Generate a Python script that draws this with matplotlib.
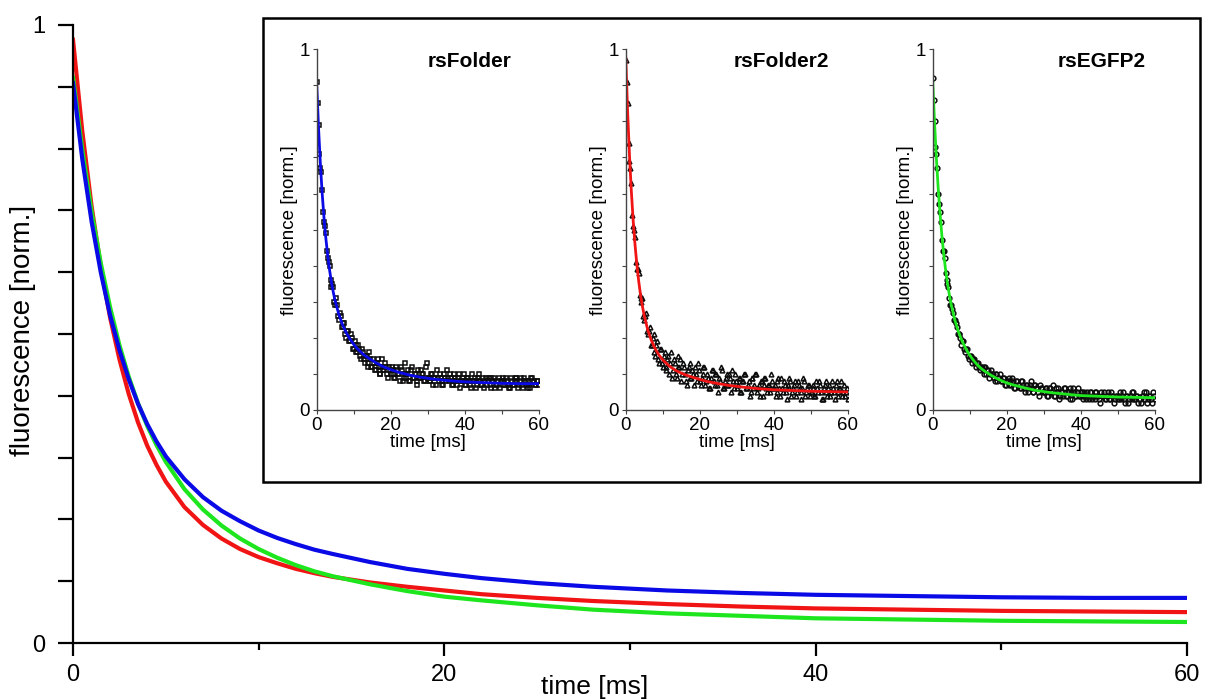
import matplotlib
matplotlib.use("Agg")
import matplotlib.pyplot as plt
from matplotlib.patches import Rectangle

plt.rcParams["font.family"] = ["Liberation Sans", "DejaVu Sans"]

# fitted decay curves (main plot and inset fit lines)
FIT_T = [0, 0.5, 1, 1.5, 2, 2.5, 3, 3.5, 4, 4.5, 5, 6, 7, 8, 9, 10, 11, 12, 13, 14,
         16, 18, 20, 22, 25, 28, 32, 36, 40, 45, 50, 55, 60]
FIT_RSFOLDER = [0.906, 0.783, 0.682, 0.599, 0.530, 0.474, 0.427, 0.387, 0.354, 0.326,
                0.302, 0.265, 0.236, 0.214, 0.197, 0.182, 0.170, 0.160, 0.151, 0.144,
                0.131, 0.120, 0.112, 0.105, 0.097, 0.091, 0.085, 0.081, 0.078, 0.076,
                0.074, 0.073, 0.073]
FIT_RSFOLDER2 = [0.976, 0.828, 0.707, 0.608, 0.526, 0.459, 0.403, 0.357, 0.319, 0.288,
                 0.261, 0.220, 0.191, 0.169, 0.152, 0.139, 0.129, 0.120, 0.113, 0.107,
                 0.098, 0.091, 0.085, 0.079, 0.073, 0.068, 0.063, 0.059, 0.056, 0.054,
                 0.052, 0.051, 0.050]
FIT_RSEGFP2 = [0.915, 0.798, 0.698, 0.614, 0.543, 0.482, 0.431, 0.388, 0.351, 0.320,
               0.293, 0.249, 0.216, 0.190, 0.169, 0.152, 0.138, 0.126, 0.116, 0.108,
               0.095, 0.084, 0.075, 0.069, 0.061, 0.054, 0.048, 0.044, 0.040, 0.038,
               0.036, 0.035, 0.034]

# measured points shown in the insets: whole/half ms samples and quarter ms samples
DATA_T = [0, 0.5, 1, 1.5, 2, 2.5, 3, 3.5, 4, 4.5, 5, 5.5, 6, 6.5, 7, 7.5, 8, 8.5, 9, 9.5,
          10, 10.5, 11, 11.5, 12, 12.5, 13, 13.5, 14, 14.5, 15, 15.5, 16, 16.5, 17, 17.5,
          18, 18.5, 19, 19.5, 20, 20.5, 21, 21.5, 22, 22.5, 23, 23.5, 24, 24.5, 25, 25.5,
          26, 26.5, 27, 27.5, 28, 28.5, 29, 29.5, 30, 30.5, 31, 31.5, 32, 32.5, 33, 33.5,
          34, 34.5, 35, 35.5, 36, 36.5, 37, 37.5, 38, 38.5, 39, 39.5, 40, 40.5, 41, 41.5,
          42, 42.5, 43, 43.5, 44, 44.5, 45, 45.5, 46, 46.5, 47, 47.5, 48, 48.5, 49, 49.5,
          50, 50.5, 51, 51.5, 52, 52.5, 53, 53.5, 54, 54.5, 55, 55.5, 56, 56.5, 57, 57.5,
          58, 58.5, 59, 59.5, 60]
DATA_T_Q = [0.25, 0.75, 1.25, 1.75, 2.25, 2.75, 3.25, 3.75, 4.25, 4.75, 5.25, 5.75,
            6.25, 6.75, 7.25, 7.75, 8.25, 8.75, 9.25, 9.75, 10.25, 10.75, 11.25, 11.75,
            12.25, 12.75, 13.25, 13.75, 14.25, 14.75, 15.25, 15.75, 16.25, 16.75, 17.25,
            17.75, 18.25, 18.75, 19.25, 19.75, 20.25, 20.75, 21.25, 21.75, 22.25, 22.75,
            23.25, 23.75, 24.25, 24.75, 25.25, 25.75, 26.25, 26.75, 27.25, 27.75, 28.25,
            28.75, 29.25, 29.75, 30.25, 30.75, 31.25, 31.75, 32.25, 32.75, 33.25, 33.75,
            34.25, 34.75, 35.25, 35.75, 36.25, 36.75, 37.25, 37.75, 38.25, 38.75, 39.25,
            39.75, 40.25, 40.75, 41.25, 41.75, 42.25, 42.75, 43.25, 43.75, 44.25, 44.75,
            45.25, 45.75, 46.25, 46.75, 47.25, 47.75, 48.25, 48.75, 49.25, 49.75, 50.25,
            50.75, 51.25, 51.75, 52.25, 52.75, 53.25, 53.75, 54.25, 54.75, 55.25, 55.75,
            56.25, 56.75, 57.25, 57.75, 58.25, 58.75, 59.25, 59.75]

DATA_RSFOLDER = [
    0.91, 0.79, 0.67, 0.61, 0.52, 0.49, 0.42, 0.40, 0.34, 0.34, 0.29, 0.29, 0.25, 0.26, 0.23,
    0.24, 0.20, 0.22, 0.19, 0.20, 0.17,
    0.18, 0.16, 0.17, 0.14, 0.16, 0.13, 0.15, 0.12, 0.14, 0.12, 0.13, 0.11, 0.14, 0.10, 0.12,
    0.11, 0.13, 0.10, 0.12, 0.10,
    0.11, 0.09, 0.12, 0.10, 0.08, 0.11, 0.09, 0.13, 0.10, 0.08, 0.11, 0.09, 0.10, 0.07, 0.11,
    0.09, 0.10, 0.08, 0.12, 0.09,
    0.08, 0.10, 0.07, 0.09, 0.11, 0.08, 0.09, 0.07, 0.10, 0.08, 0.09, 0.10, 0.07, 0.08, 0.09,
    0.07, 0.10, 0.08, 0.09, 0.07,
    0.08, 0.09, 0.07, 0.10, 0.08, 0.06, 0.09, 0.08, 0.07, 0.09, 0.08, 0.07, 0.09, 0.06, 0.08,
    0.09, 0.07, 0.08, 0.06, 0.08,
    0.09, 0.07, 0.08, 0.06, 0.09, 0.07, 0.08, 0.09, 0.06, 0.08, 0.07, 0.09, 0.08, 0.06, 0.07,
    0.09, 0.08, 0.07, 0.08, 0.07]
DATA_RSFOLDER_Q = [
    0.85, 0.71, 0.66, 0.55, 0.51, 0.44, 0.41, 0.36, 0.35, 0.30, 0.31, 0.26, 0.27, 0.23, 0.24,
    0.21, 0.22, 0.19, 0.21, 0.17,
    0.19, 0.16, 0.18, 0.15, 0.17, 0.14, 0.15, 0.13, 0.16, 0.12, 0.14, 0.11, 0.13, 0.12, 0.10,
    0.14, 0.11, 0.12, 0.09, 0.11,
    0.12, 0.10, 0.09, 0.11, 0.10, 0.12, 0.08, 0.10, 0.09, 0.11, 0.08, 0.12, 0.09, 0.10, 0.08,
    0.09, 0.11, 0.10, 0.08, 0.13,
    0.09, 0.08, 0.10, 0.09, 0.07, 0.09, 0.10, 0.08, 0.07, 0.09, 0.11, 0.08, 0.09, 0.07, 0.10,
    0.08, 0.09, 0.06, 0.08, 0.10,
    0.07, 0.09, 0.08, 0.06, 0.08, 0.09, 0.07, 0.10, 0.08, 0.07, 0.06, 0.09, 0.08, 0.07, 0.09,
    0.08, 0.06, 0.07, 0.09, 0.08,
    0.07, 0.08, 0.09, 0.07, 0.06, 0.08, 0.07, 0.09, 0.08, 0.07, 0.09, 0.06, 0.08, 0.07, 0.08,
    0.06, 0.09, 0.08, 0.07, 0.08]
DATA_RSFOLDER2 = [
    0.97, 0.85, 0.69, 0.63, 0.51, 0.48, 0.39, 0.38, 0.30, 0.31, 0.25, 0.27, 0.21, 0.23, 0.18,
    0.21, 0.15, 0.19, 0.13, 0.17, 0.12,
    0.16, 0.11, 0.15, 0.13, 0.09, 0.14, 0.10, 0.15, 0.12, 0.08, 0.13, 0.10, 0.07, 0.12, 0.09,
    0.11, 0.07, 0.10, 0.13, 0.08,
    0.09, 0.12, 0.07, 0.10, 0.06, 0.09, 0.11, 0.07, 0.10, 0.05, 0.08, 0.11, 0.06, 0.09, 0.07,
    0.10, 0.05, 0.08, 0.10, 0.06,
    0.09, 0.05, 0.08, 0.10, 0.06, 0.07, 0.04, 0.09, 0.06, 0.10, 0.05, 0.07, 0.08, 0.04, 0.09,
    0.06, 0.07, 0.05, 0.08, 0.06,
    0.04, 0.08, 0.06, 0.09, 0.05, 0.07, 0.03, 0.06, 0.08, 0.05, 0.07, 0.04, 0.08, 0.06, 0.05,
    0.09, 0.04, 0.06, 0.07, 0.05,
    0.06, 0.04, 0.08, 0.05, 0.07, 0.03, 0.06, 0.08, 0.04, 0.07, 0.05, 0.06, 0.03, 0.08, 0.05,
    0.06, 0.04, 0.07, 0.05, 0.03]
DATA_RSFOLDER2_Q = [
    0.91, 0.74, 0.67, 0.54, 0.50, 0.41, 0.39, 0.32, 0.31, 0.26, 0.26, 0.22, 0.22, 0.18, 0.20,
    0.16, 0.18, 0.14, 0.17, 0.13,
    0.15, 0.12, 0.14, 0.10, 0.16, 0.11, 0.13, 0.09, 0.12, 0.14, 0.10, 0.12, 0.08, 0.11, 0.13,
    0.09, 0.10, 0.12, 0.08, 0.11,
    0.07, 0.10, 0.12, 0.08, 0.09, 0.06, 0.11, 0.08, 0.10, 0.07, 0.09, 0.12, 0.06, 0.08, 0.10,
    0.07, 0.09, 0.11, 0.06, 0.08,
    0.07, 0.09, 0.05, 0.08, 0.10, 0.06, 0.08, 0.05, 0.09, 0.07, 0.10, 0.06, 0.04, 0.08, 0.07,
    0.09, 0.05, 0.07, 0.10, 0.06,
    0.07, 0.05, 0.09, 0.04, 0.06, 0.08, 0.05, 0.07, 0.09, 0.04, 0.06, 0.08, 0.05, 0.07, 0.03,
    0.06, 0.08, 0.05, 0.07, 0.04,
    0.05, 0.07, 0.04, 0.06, 0.08, 0.05, 0.03, 0.07, 0.05, 0.06, 0.04, 0.08, 0.05, 0.07, 0.04,
    0.06, 0.08, 0.05, 0.04, 0.06]
DATA_RSEGFP2 = [
    0.92, 0.80, 0.71, 0.60, 0.55, 0.47, 0.44, 0.38, 0.35, 0.31, 0.29, 0.27, 0.25, 0.23, 0.21,
    0.20, 0.19, 0.17, 0.17, 0.15, 0.15,
    0.14, 0.14, 0.13, 0.13, 0.12, 0.12, 0.11, 0.12, 0.10, 0.11, 0.10, 0.10, 0.09, 0.10, 0.08,
    0.09, 0.08, 0.09, 0.07, 0.08,
    0.07, 0.08, 0.09, 0.06, 0.08, 0.07, 0.06, 0.08, 0.07, 0.05, 0.07, 0.06, 0.08, 0.05, 0.07,
    0.06, 0.05, 0.07, 0.06, 0.05,
    0.06, 0.04, 0.06, 0.05, 0.07, 0.04, 0.05, 0.06, 0.04, 0.05, 0.06, 0.04, 0.05, 0.03, 0.05,
    0.06, 0.04, 0.05, 0.04, 0.05,
    0.04, 0.05, 0.03, 0.04, 0.05, 0.03, 0.04, 0.05, 0.04, 0.03, 0.05, 0.04, 0.03, 0.04, 0.05,
    0.03, 0.04, 0.02, 0.04, 0.03,
    0.04, 0.03, 0.05, 0.02, 0.04, 0.03, 0.04, 0.05, 0.03, 0.04, 0.02, 0.03, 0.04, 0.05, 0.03,
    0.02, 0.04, 0.03, 0.05, 0.03]
DATA_RSEGFP2_Q = [
    0.86, 0.73, 0.67, 0.57, 0.52, 0.44, 0.42, 0.36, 0.34, 0.29, 0.28, 0.25, 0.24, 0.21, 0.21,
    0.18, 0.19, 0.16, 0.17, 0.14,
    0.15, 0.13, 0.14, 0.12, 0.13, 0.11, 0.12, 0.10, 0.12, 0.11, 0.09, 0.11, 0.10, 0.08, 0.10,
    0.09, 0.10, 0.08, 0.09, 0.07,
    0.08, 0.09, 0.07, 0.08, 0.06, 0.08, 0.07, 0.06, 0.08, 0.06, 0.07, 0.05, 0.07, 0.06, 0.05,
    0.07, 0.06, 0.04, 0.06, 0.05,
    0.05, 0.06, 0.04, 0.06, 0.05, 0.04, 0.06, 0.05, 0.03, 0.05, 0.04, 0.06, 0.04, 0.05, 0.06,
    0.03, 0.05, 0.04, 0.06, 0.04,
    0.05, 0.03, 0.04, 0.05, 0.03, 0.05, 0.04, 0.03, 0.05, 0.04, 0.02, 0.04, 0.05, 0.03, 0.04,
    0.03, 0.05, 0.04, 0.03, 0.04,
    0.03, 0.05, 0.04, 0.03, 0.04, 0.02, 0.04, 0.03, 0.05, 0.03, 0.04, 0.03, 0.02, 0.04, 0.03,
    0.05, 0.03, 0.04, 0.02, 0.04]

NAMES = ["rsFolder", "rsFolder2", "rsEGFP2"]
FITS = [FIT_RSFOLDER, FIT_RSFOLDER2, FIT_RSEGFP2]
DATA = [DATA_RSFOLDER, DATA_RSFOLDER2, DATA_RSEGFP2]
DATA_Q = [DATA_RSFOLDER_Q, DATA_RSFOLDER2_Q, DATA_RSEGFP2_Q]
COLORS = ["#0a0ae6", "#f01414", "#1ee61e"]
MARKERS = ["s", "^", "o"]
MAIN_ORDER = [1, 2, 0]  # red, green, then blue on top


fig = plt.figure(figsize=(12.05, 7.0), dpi=100)

# ---- main plot ----
ax = fig.add_axes([0.0606, 0.0814, 0.9245, 0.8829])
for i in MAIN_ORDER:
    ax.plot(FIT_T, FITS[i], color=COLORS[i], linewidth=3.0)
ax.set_xlim(0, 60)
ax.set_ylim(0, 1)
ax.spines["top"].set_visible(False)
ax.spines["right"].set_visible(False)
for side in ("left", "bottom"):
    ax.spines[side].set_linewidth(1.6)
yt = [i / 10 for i in range(11)]
ax.set_yticks(yt, ["0"] + [""] * 9 + ["1"])
ax.set_xticks([0, 20, 40, 60], ["0", "20", "40", "60"])
ax.set_xticks([10, 30, 50], minor=True)
ax.tick_params(axis="y", length=11, width=1.6, labelsize=17, pad=9)
ax.tick_params(axis="x", which="major", length=9, width=1.6, labelsize=17, pad=6)
ax.tick_params(axis="x", which="minor", length=5, width=1.6)
ax.set_xlabel("time [ms]", fontsize=19)
ax.xaxis.set_label_coords(0.468, -0.052)
ax.set_ylabel("fluorescence [norm.]", fontsize=20)
ax.yaxis.set_label_coords(-0.033, 0.506)

# ---- inset frame ----
fig.patches.append(Rectangle((0.2183, 0.3114), 0.7776, 0.6626, transform=fig.transFigure,
                             facecolor="white", edgecolor="black", linewidth=1.8, zorder=2))

inset_lefts = [0.2628, 0.5193, 0.7740]
title_x = [0.69, 0.70, 0.76]
for i in range(3):
    ia = fig.add_axes([inset_lefts[i], 0.4143, 0.1842, 0.5153], zorder=3)
    ia.patch.set_alpha(0)
    for tt, vals in ((DATA_T, DATA[i]), (DATA_T_Q, DATA_Q[i])):
        ia.plot(tt, vals, linestyle="none", marker=MARKERS[i], markersize=3.4,
                markerfacecolor="none", markeredgecolor="#0d0d0d", markeredgewidth=1.1)
    ia.plot(FIT_T, FITS[i], color=COLORS[i], linewidth=2.0)
    ia.set_xlim(0, 60)
    ia.set_ylim(0, 1)
    ia.spines["top"].set_visible(False)
    ia.spines["right"].set_visible(False)
    for side in ("left", "bottom"):
        ia.spines[side].set_color("#444444")
        ia.spines[side].set_linewidth(1.0)
    ia.set_yticks(yt, ["0"] + [""] * 9 + ["1"])
    ia.set_xticks([0, 20, 40, 60], ["0", "20", "40", "60"])
    ia.set_xticks([10, 30, 50], minor=True)
    ia.tick_params(axis="both", which="both", length=3, width=0.8, color="#444444",
                   labelsize=13.5, pad=2)
    ia.set_xlabel("time [ms]", fontsize=13.5, labelpad=0)
    ia.set_ylabel("fluorescence [norm.]", fontsize=13.5, labelpad=1)
    ia.text(title_x[i], 0.965, NAMES[i], transform=ia.transAxes, ha="center", va="center",
            fontsize=15, fontweight="bold")

fig.savefig("out.png", dpi=100)
